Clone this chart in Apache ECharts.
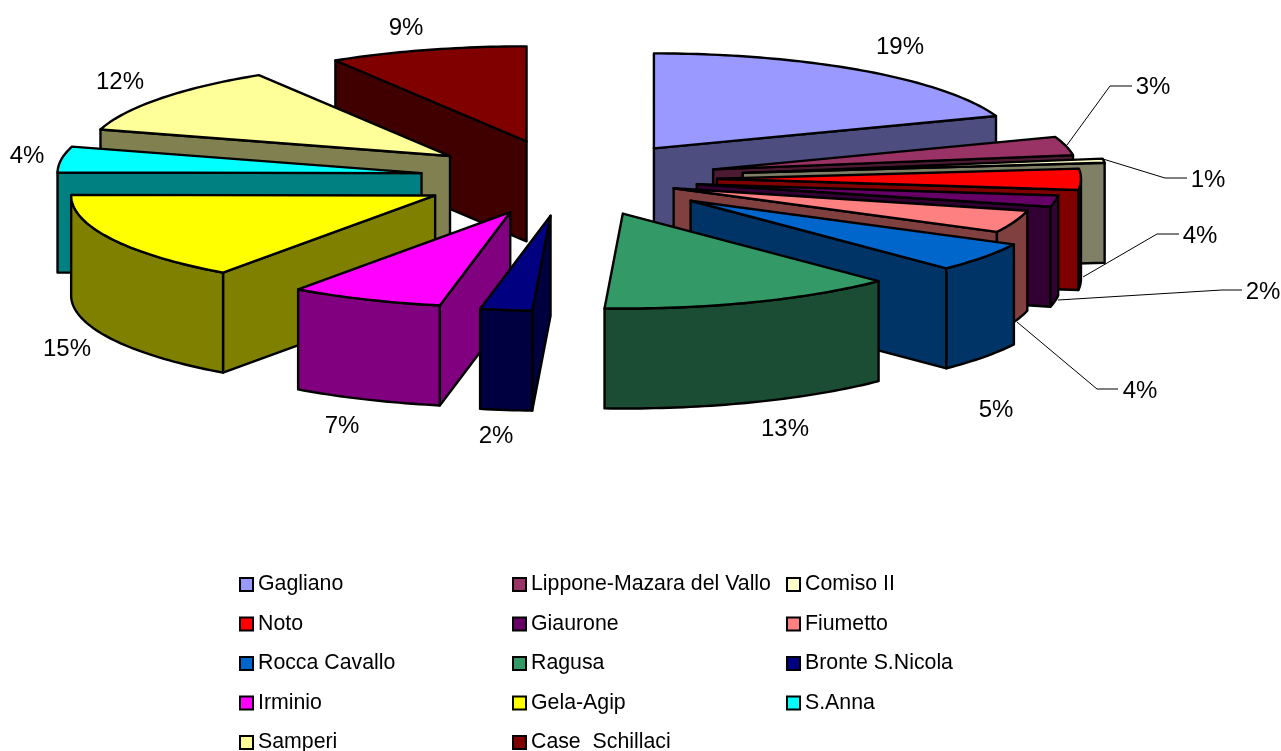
<!DOCTYPE html>
<html>
<head>
<meta charset="utf-8">
<style>
  html, body { margin: 0; padding: 0; background: #fff; }
  #chart { width: 1281px; height: 751px; }
</style>
<script src="https://cdn.jsdelivr.net/npm/echarts@6/dist/echarts.min.js"></script>
</head>
<body>
<div id="chart"></div>
<script>
// slices, clockwise from 12 o'clock
const names = ['Gagliano', 'Lippone-Mazara del Vallo', 'Comiso II', 'Noto', 'Giaurone', 'Fiumetto', 'Rocca Cavallo',
    'Ragusa', 'Bronte S.Nicola', 'Irminio', 'Gela-Agip', 'S.Anna', 'Samperi', 'Case  Schillaci'];
const shares = [19.45, 3.15, 0.7, 3.6, 1.9, 3.8, 5.0, 13.2, 2.3, 6.8, 15.2, 4.4, 11.7, 8.8];

const topColors = ['#9999FF', '#993366', '#FFFFCC', '#FF0000', '#660066', '#FF8080', '#0066CC',
    '#339966', '#000080', '#FF00FF', '#FFFF00', '#00FFFF', '#FFFF99', '#800000'];
const wallColors = ['#4D4D80', '#4D1A33', '#808066', '#800000', '#330033', '#804040', '#003366',
    '#1A4D33', '#000040', '#800080', '#808000', '#008080', '#808050', '#400000'];

// how far each slice is pulled out of the pie, 1 = the usual distance
const explode = [0.98, 0.985, 1.16, 0.98, 0.86, 0.74, 1, 1, 1, 0.98, 0.995, 0.987, 0.99, 1.03];

// pie projection
const CX = 569, CY = 178.5, RX = 364, RY = 95, DEPTH = 100, EX = 151, EY = 37.5;

// label centres, and leader lines for the thin slices
const labelPos = [[900, 46], [1153, 86], [1208, 179], [1200, 235], [1263, 291], [1140, 390], [996, 409],
    [785, 428], [496, 435], [342, 425], [67, 348], [27, 155], [120, 81], [406, 27]];
const leaders = {
    1: [[1067, 145], [1110, 86], [1132, 86]],
    2: [[1103, 159], [1165, 178], [1187, 178]],
    3: [[1083, 277], [1157, 234], [1179, 234]],
    4: [[1058, 300], [1222, 290], [1242, 290]],
    5: [[1017, 322], [1097, 389], [1118, 389]]
};

const outline = { stroke: '#000', lineWidth: 2.4, lineJoin: 'round' };

function renderSlice(params, api) {
    const a0 = api.value(0) / 100 * 2 * Math.PI;
    const a1 = (api.value(0) + api.value(1)) / 100 * 2 * Math.PI;
    const mid = (a0 + a1) / 2;
    const k = explode[params.seriesIndex];
    const ax = CX + EX * k * Math.sin(mid);
    const ay = CY - EY * k * Math.cos(mid);

    const steps = Math.max(2, Math.ceil((a1 - a0) / 0.02));
    const arc = [];
    for (let i = 0; i <= steps; i++) {
        const t = a0 + (a1 - a0) * i / steps;
        arc.push([ax + RX * Math.sin(t), ay - RY * Math.cos(t)]);
    }
    const first = arc[0], last = arc[arc.length - 1];
    const down = p => [p[0], p[1] + DEPTH];
    const children = [];
    const wall = pts => children.push({
        type: 'polygon',
        shape: { points: pts },
        style: { fill: wallColors[params.seriesIndex], ...outline }
    });

    // only faces turned towards the viewer get a wall
    if (first[0] < ax) wall([[ax, ay], first, down(first), [ax, ay + DEPTH]]);
    if (last[0] > ax) wall([last, [ax, ay], [ax, ay + DEPTH], down(last)]);
    const front = [];
    for (let i = 0; i <= steps; i++) {
        const t = a0 + (a1 - a0) * i / steps;
        if (t >= Math.PI / 2 && t <= 1.5 * Math.PI) front.push(arc[i]);
    }
    if (front.length > 1) wall(front.concat(front.map(down).reverse()));

    children.push({
        type: 'polygon',
        shape: { points: [[ax, ay]].concat(arc) },
        style: { fill: topColors[params.seriesIndex], ...outline }
    });
    return { type: 'group', children };
}

function renderLabel(params, api) {
    const i = params.dataIndex;
    const children = [{
        type: 'text',
        x: labelPos[i][0],
        y: labelPos[i][1] + 1,
        style: {
            text: Math.round(api.value(0)) + '%',
            fill: '#000',
            font: '24px "Liberation Sans", Arial, sans-serif',
            align: 'center',
            verticalAlign: 'middle'
        }
    }];
    if (leaders[i]) {
        children.push({
            type: 'polyline',
            shape: { points: leaders[i] },
            style: { fill: null, stroke: '#000', lineWidth: 1 }
        });
    }
    return { type: 'group', children };
}

// back slices first
const midCos = [];
let cum = 0;
shares.forEach(s => {
    midCos.push(Math.cos((cum + s / 2) / 100 * 2 * Math.PI));
    cum += s;
});
const depthRank = midCos.map(c => midCos.filter(o => o > c).length);

cum = 0;
const sliceSeries = names.map((name, i) => {
    const start = cum;
    cum += shares[i];
    return {
        type: 'custom',
        name,
        coordinateSystem: 'none',
        silent: true,
        z: 2 + depthRank[i],
        itemStyle: { color: topColors[i] },
        data: [[start, shares[i]]],
        renderItem: renderSlice
    };
});

const legendBase = {
    orient: 'vertical',
    selectedMode: false,
    itemWidth: 13,
    itemHeight: 13,
    itemGap: 18.5,
    padding: 0,
    top: 574,
    height: 260, // the last row has to stay in this column
    icon: 'rect',
    itemStyle: { borderColor: '#000', borderWidth: 2 },
    textStyle: { color: '#000', fontSize: 21.3, fontFamily: '"Liberation Sans", Arial, sans-serif', padding: [3, 0, 0, 0] }
};

const chart = echarts.init(document.getElementById('chart'));
chart.setOption({
    backgroundColor: '#fff',
    animation: false,
    legend: [
        { ...legendBase, left: 239, data: [names[0], names[3], names[6], names[9], names[12]] },
        { ...legendBase, left: 512, data: [names[1], names[4], names[7], names[10], names[13]] },
        { ...legendBase, left: 786, data: [names[2], names[5], names[8], names[11]] }
    ],
    series: sliceSeries.concat({
        type: 'custom',
        name: 'labels',
        coordinateSystem: 'none',
        silent: true,
        z: 40,
        data: shares.map(s => [s]),
        renderItem: renderLabel
    })
});
</script>
</body>
</html>
